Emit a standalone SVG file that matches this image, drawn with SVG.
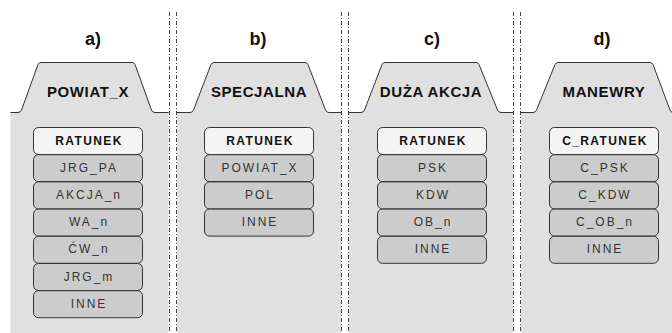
<svg xmlns="http://www.w3.org/2000/svg" width="672" height="333" viewBox="0 0 672 333">
  <style>
    .panel { fill: #e0e0e0; stroke: none; }
    .tab { fill: #e0e0e0; stroke: #333; stroke-width: 1; stroke-linejoin: round; }
    .div { stroke: #444; stroke-width: 1; stroke-dasharray: 4 2 1 2; fill: none; }
    .title { font-family: "Liberation Sans", Arial, sans-serif; font-weight: bold; font-size: 18px; fill: #111; text-anchor: middle; }
    .tabl { font-family: "Liberation Sans", Arial, sans-serif; font-weight: bold; font-size: 15px; letter-spacing: 0.6px; fill: #111; text-anchor: middle; }
    .head { fill: #f4f4f4; stroke: #333; stroke-width: 1; }
    .item { fill: #cccccc; stroke: #333; stroke-width: 1; }
    .ht { font-family: "Liberation Sans", Arial, sans-serif; font-weight: bold; font-size: 12px; letter-spacing: 1.4px; fill: #111; text-anchor: middle; }
    .it { font-family: "Liberation Sans", Arial, sans-serif; font-size: 12px; letter-spacing: 2px; fill: #333; text-anchor: middle; }
  </style>

  <!-- panel bodies -->
  <rect class="panel" x="10.5" y="112" width="158" height="221"/>
  <rect class="panel" x="177" y="112" width="164" height="221"/>
  <rect class="panel" x="349" y="112" width="164" height="221"/>
  <rect class="panel" x="521" y="112" width="151" height="221"/>

  <!-- tabs with the baseline running out to the dividers -->
  <path class="tab" d="M10.5,112.5 H18 Q20.5,112.5 21.5,110 L38,64.5 Q39,62.5 41,62.5 H132 Q134,62.5 135,64.5 L151.5,110 Q152.5,112.5 155,112.5 H168.5"/>
  <path class="tab" d="M177,112.5 H190 Q192.5,112.5 193.5,110 L211,64.5 Q212,62.5 214,62.5 H305 Q307,62.5 308,64.5 L325.5,110 Q326.5,112.5 329,112.5 H341"/>
  <path class="tab" d="M349,112.5 H361 Q363.5,112.5 364.5,110 L382,64.5 Q383,62.5 385,62.5 H476 Q478,62.5 479,64.5 L497.5,110 Q498.5,112.5 501,112.5 H513"/>
  <path class="tab" d="M521,112.5 H533 Q535.5,112.5 536.5,110 L555,64.5 Q556,62.5 558,62.5 H650 Q652,62.5 653,64.5 L670,110 Q671,112.5 673,112.5"/>

  <!-- dividers between the panels -->
  <g id="dividers">
    <line class="div" x1="169.5" y1="12" x2="169.5" y2="333"/>
    <line class="div" x1="176.5" y1="12" x2="176.5" y2="333"/>
    <line class="div" x1="341.5" y1="12" x2="341.5" y2="333"/>
    <line class="div" x1="348.5" y1="12" x2="348.5" y2="333"/>
    <line class="div" x1="513.5" y1="12" x2="513.5" y2="333"/>
    <line class="div" x1="520.5" y1="12" x2="520.5" y2="333"/>
  </g>

  <!-- titles and tab labels -->
  <text class="title" x="93" y="45">a)</text>
  <text class="title" x="258" y="45">b)</text>
  <text class="title" x="432" y="45">c)</text>
  <text class="title" x="602" y="45">d)</text>

  <text class="tabl" x="88" y="96.5">POWIAT_X</text>
  <text class="tabl" x="259" y="96.5">SPECJALNA</text>
  <text class="tabl" x="431" y="96.5">DUŻA AKCJA</text>
  <text class="tabl" x="604" y="96.5">MANEWRY</text>

  <!-- a) POWIAT_X -->
  <g id="stack-a">
    <rect class="head" x="33.5" y="127.5" width="109" height="27" rx="5"/>
    <text class="ht" x="89" y="144.5">RATUNEK</text>
    <rect class="item" x="33.5" y="154.7" width="109" height="27" rx="5"/>
    <text class="it" x="89" y="171.7">JRG_PA</text>
    <rect class="item" x="33.5" y="181.9" width="109" height="27" rx="5"/>
    <text class="it" x="89" y="198.9">AKCJA_n</text>
    <rect class="item" x="33.5" y="209.1" width="109" height="27" rx="5"/>
    <text class="it" x="89" y="226.1">WA_n</text>
    <rect class="item" x="33.5" y="236.3" width="109" height="27" rx="5"/>
    <text class="it" x="89" y="253.3">ĆW_n</text>
    <rect class="item" x="33.5" y="263.5" width="109" height="27" rx="5"/>
    <text class="it" x="89" y="280.5">JRG_m</text>
    <rect class="item" x="33.5" y="290.7" width="109" height="27" rx="5"/>
    <text class="it" x="89" y="307.7">INNE</text>
  </g>

  <!-- b) SPECJALNA -->
  <g id="stack-b">
    <rect class="head" x="204.5" y="127.5" width="109" height="27" rx="5"/>
    <text class="ht" x="260" y="144.5">RATUNEK</text>
    <rect class="item" x="204.5" y="154.7" width="109" height="27" rx="5"/>
    <text class="it" x="260" y="171.7">POWIAT_X</text>
    <rect class="item" x="204.5" y="181.9" width="109" height="27" rx="5"/>
    <text class="it" x="260" y="198.9">POL</text>
    <rect class="item" x="204.5" y="209.1" width="109" height="27" rx="5"/>
    <text class="it" x="260" y="226.1">INNE</text>
  </g>

  <!-- c) DUŻA AKCJA -->
  <g id="stack-c">
    <rect class="head" x="377.5" y="127.5" width="109" height="27" rx="5"/>
    <text class="ht" x="433" y="144.5">RATUNEK</text>
    <rect class="item" x="377.5" y="154.7" width="109" height="27" rx="5"/>
    <text class="it" x="433" y="171.7">PSK</text>
    <rect class="item" x="377.5" y="181.9" width="109" height="27" rx="5"/>
    <text class="it" x="433" y="198.9">KDW</text>
    <rect class="item" x="377.5" y="209.1" width="109" height="27" rx="5"/>
    <text class="it" x="433" y="226.1">OB_n</text>
    <rect class="item" x="377.5" y="236.3" width="109" height="27" rx="5"/>
    <text class="it" x="433" y="253.3">INNE</text>
  </g>

  <!-- d) MANEWRY -->
  <g id="stack-d">
    <rect class="head" x="549.5" y="127.5" width="109" height="27" rx="5"/>
    <text class="ht" x="605" y="144.5">C_RATUNEK</text>
    <rect class="item" x="549.5" y="154.7" width="109" height="27" rx="5"/>
    <text class="it" x="605" y="171.7">C_PSK</text>
    <rect class="item" x="549.5" y="181.9" width="109" height="27" rx="5"/>
    <text class="it" x="605" y="198.9">C_KDW</text>
    <rect class="item" x="549.5" y="209.1" width="109" height="27" rx="5"/>
    <text class="it" x="605" y="226.1">C_OB_n</text>
    <rect class="item" x="549.5" y="236.3" width="109" height="27" rx="5"/>
    <text class="it" x="605" y="253.3">INNE</text>
  </g>
</svg>
